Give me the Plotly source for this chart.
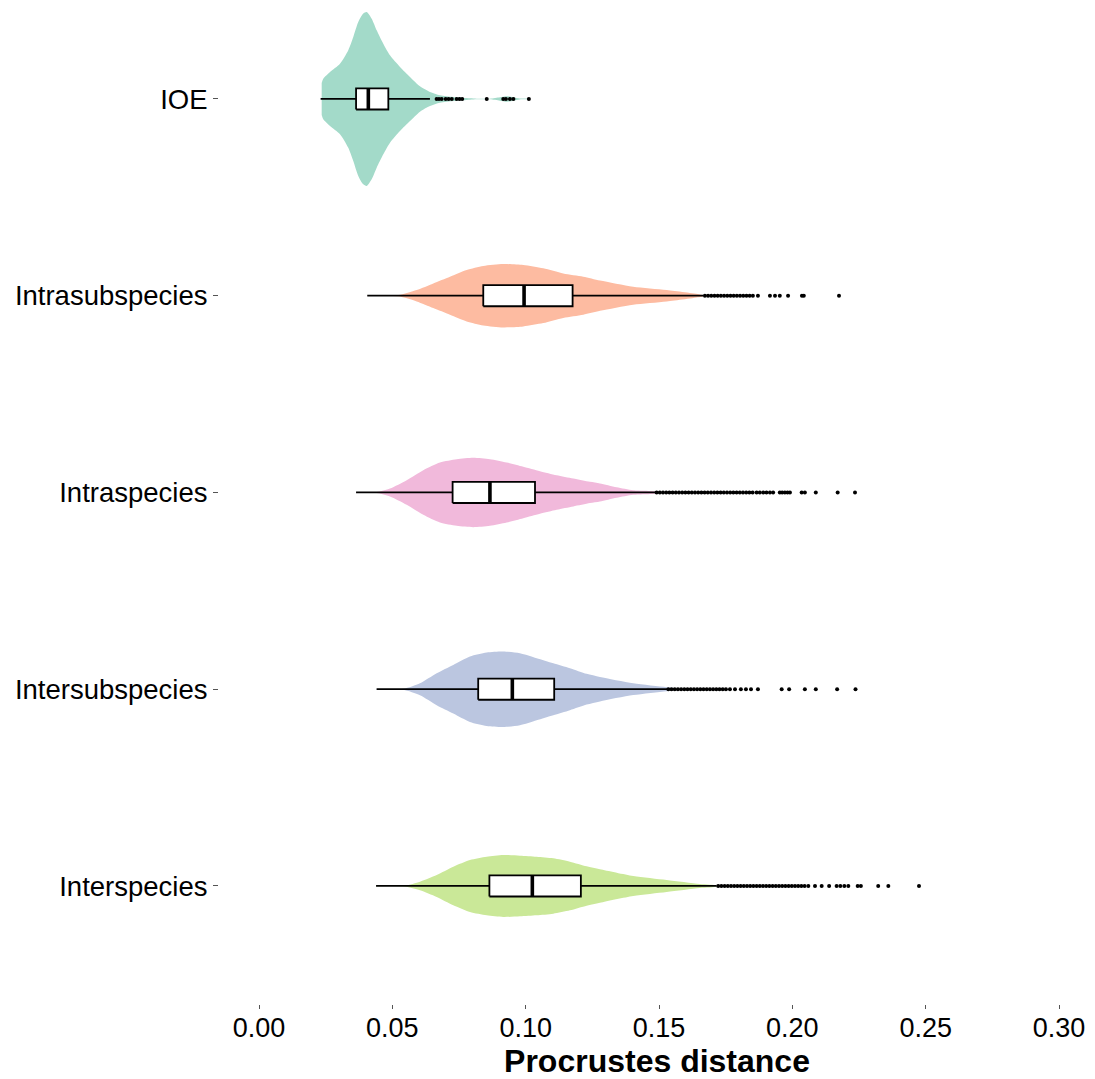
import plotly.graph_objects as go

# ---------------- data ----------------
groups = ["Interspecies", "Intersubspecies", "Intraspecies", "Intrasubspecies", "IOE"]
positions = [0, 1, 2, 3, 4]
fill_colors = ["rgb(202,232,152)", "rgb(187,198,224)", "rgb(241,185,219)",
               "rgb(253,187,161)", "rgb(163,218,201)"]

# box statistics (Procrustes distance)
lower_whisker = [0.0439, 0.0441, 0.0364, 0.0406, 0.0231]
q1_vals = [0.0864, 0.0822, 0.0726, 0.0841, 0.0364]
median_vals = [0.1025, 0.0950, 0.0866, 0.0994, 0.0410]
q3_vals = [0.1207, 0.1107, 0.1035, 0.1176, 0.0485]
upper_whisker = [0.1716, 0.1534, 0.1491, 0.1665, 0.0641]

# violin outlines: x positions and half-widths (category units)
violin_x = {
    "IOE": [0.02351, 0.02411, 0.02662, 0.03037, 0.03348, 0.03536, 0.03723, 0.03911,
            0.04038, 0.04226, 0.04413, 0.04661, 0.04912, 0.05287, 0.05662, 0.06037,
            0.06412, 0.06787, 0.07285, 0.07911, 0.08163, 0.08661, 0.09036, 0.09288,
            0.09535, 0.09786, 0.10124],
    "Intrasubspecies": [0.04061, 0.05223, 0.05913, 0.06535, 0.07162, 0.07788, 0.0841,
                        0.0916, 0.0991, 0.1066, 0.1141, 0.1216, 0.1279, 0.1403, 0.1529,
                        0.1654, 0.1666],
    "Intraspecies": [0.03637, 0.04413, 0.04912, 0.05538, 0.0616, 0.06787, 0.07413,
                     0.08035, 0.08661, 0.09288, 0.0991, 0.10536, 0.11162, 0.11785,
                     0.12411, 0.12786, 0.13412, 0.14035, 0.14912],
    "Intersubspecies": [0.04413, 0.05411, 0.06037, 0.06663, 0.07285, 0.07912, 0.08538,
                        0.0916, 0.09786, 0.10412, 0.11035, 0.11661, 0.12287, 0.12786,
                        0.14035, 0.15287, 0.15786],
    "Interspecies": [0.04387, 0.05474, 0.06037, 0.06663, 0.07285, 0.07912, 0.08538,
                     0.0916, 0.09786, 0.10412, 0.11035, 0.11661, 0.12287, 0.12786,
                     0.14035, 0.15287, 0.16537, 0.17162],
}
violin_w = {
    "IOE": [0.0813, 0.103, 0.137, 0.179, 0.248, 0.315, 0.391, 0.434, 0.442, 0.408,
            0.349, 0.281, 0.222, 0.163, 0.112, 0.0645, 0.0356, 0.0188, 0.0102, 0.0036,
            0.0015, 0.0015, 0.0086, 0.0137, 0.0086, 0.0025, 0.001],
    "Intrasubspecies": [0.001, 0.003, 0.029, 0.0625, 0.0966, 0.1306, 0.151, 0.161,
                        0.156, 0.139, 0.113, 0.0966, 0.077, 0.0457, 0.029, 0.0066,
                        0.0025],
    "Intraspecies": [0.001, 0.0025, 0.0203, 0.0625, 0.1133, 0.1525, 0.1693, 0.1764,
                     0.1693, 0.1525, 0.1306, 0.1083, 0.0879, 0.0712, 0.054, 0.046,
                     0.027, 0.0117, 0.0036],
    "Intersubspecies": [0.001, 0.0025, 0.0305, 0.0813, 0.1235, 0.1662, 0.1865, 0.1916,
                        0.183, 0.1576, 0.1321, 0.1067, 0.078, 0.062, 0.030, 0.0102,
                        0.0025],
    "Interspecies": [0.001, 0.0025, 0.0219, 0.0559, 0.0981, 0.1321, 0.1489, 0.1576,
                     0.154, 0.1489, 0.1408, 0.1235, 0.100, 0.085, 0.0508, 0.0305,
                     0.0102, 0.0025],
}

# outliers
outliers = {
    "IOE": [0.0666, 0.0675, 0.0685, 0.0700, 0.0711, 0.0723, 0.0741, 0.0752, 0.0762,
            0.0854, 0.0916, 0.0926, 0.0941, 0.0954, 0.1012],
    "Intrasubspecies": [0.1672, 0.1684, 0.1696, 0.1708, 0.1720, 0.1732, 0.1744, 0.1756,
                        0.1768, 0.1780, 0.1792, 0.1804, 0.1816, 0.1828, 0.1840, 0.1852,
                        0.1871, 0.1916, 0.1935, 0.1953, 0.1984, 0.2036, 0.2043, 0.2175],
    "Intraspecies": [0.1491, 0.1503, 0.1515, 0.1527, 0.1539, 0.1551, 0.1563, 0.1575,
                     0.1587, 0.1599, 0.1611, 0.1623, 0.1635, 0.1647, 0.1659, 0.1671,
                     0.1683, 0.1695, 0.1707, 0.1719, 0.1731, 0.1743, 0.1755, 0.1767,
                     0.1779, 0.1791, 0.1803, 0.1815, 0.1827, 0.1839, 0.1851, 0.1866,
                     0.1878, 0.1891, 0.1903, 0.1916, 0.1928, 0.1953, 0.1962, 0.1972,
                     0.1982, 0.1991, 0.2035, 0.2047, 0.2088, 0.2170, 0.2235],
    "Intersubspecies": [0.1535, 0.1547, 0.1559, 0.1571, 0.1583, 0.1595, 0.1607, 0.1619,
                        0.1631, 0.1643, 0.1655, 0.1667, 0.1679, 0.1691, 0.1703, 0.1715,
                        0.1727, 0.1739, 0.1751, 0.1766, 0.1785, 0.1807, 0.1826, 0.1845,
                        0.1871, 0.1960, 0.1988, 0.2047, 0.2088, 0.2168, 0.2237],
    "Interspecies": [0.1722, 0.1734, 0.1746, 0.1758, 0.1770, 0.1782, 0.1794, 0.1806,
                     0.1818, 0.1830, 0.1842, 0.1854, 0.1866, 0.1878, 0.1890, 0.1902,
                     0.1914, 0.1926, 0.1938, 0.1950, 0.1962, 0.1974, 0.1986, 0.1998,
                     0.2010, 0.2022, 0.2034, 0.2046, 0.2060, 0.2085, 0.2110, 0.2138,
                     0.2166, 0.2180, 0.2195, 0.2210, 0.2245, 0.2257, 0.2322, 0.2360,
                     0.2475],
}

x_tick_vals = [0.00, 0.05, 0.10, 0.15, 0.20, 0.25, 0.30]
x_tick_text = ["0.00", "0.05", "0.10", "0.15", "0.20", "0.25", "0.30"]
x_title = "Procrustes distance"

# ---------------- figure ----------------
BOX_H = 0.0535  # half height of box in category units
fig = go.Figure()

# violins (smoothed outline, upper and lower halves)
for g, pos, col in zip(groups, positions, fill_colors):
    xs = violin_x[g]
    ws = violin_w[g]
    px_ = xs + xs[::-1]
    py_ = [pos + w for w in ws] + [pos - w for w in ws[::-1]]
    fig.add_trace(go.Scatter(x=px_, y=py_, mode="lines", fill="toself",
                             fillcolor=col,
                             line=dict(width=0, color=col, shape="spline",
                                       smoothing=0.7),
                             hoverinfo="skip", showlegend=False))

# box plots
for i, (g, pos) in enumerate(zip(groups, positions)):
    # whiskers
    fig.add_trace(go.Scatter(
        x=[lower_whisker[i], q1_vals[i], None, q3_vals[i], upper_whisker[i]],
        y=[pos, pos, None, pos, pos], mode="lines",
        line=dict(color="black", width=1.8), hoverinfo="skip", showlegend=False))
    # box
    fig.add_trace(go.Scatter(
        x=[q1_vals[i], q3_vals[i], q3_vals[i], q1_vals[i], q1_vals[i]],
        y=[pos - BOX_H, pos - BOX_H, pos + BOX_H, pos + BOX_H, pos - BOX_H],
        mode="lines", fill="toself", fillcolor="white",
        line=dict(color="black", width=1.8), hoverinfo="skip", showlegend=False))
    # median
    fig.add_trace(go.Scatter(x=[median_vals[i], median_vals[i]],
                             y=[pos - BOX_H, pos + BOX_H],
                             mode="lines", line=dict(color="black", width=3.6),
                             hoverinfo="skip", showlegend=False))
    # outliers
    fig.add_trace(go.Scatter(x=outliers[g], y=[pos] * len(outliers[g]),
                             mode="markers",
                             marker=dict(color="black", size=4, line=dict(width=0)),
                             hoverinfo="skip", showlegend=False))

fig.update_layout(
    width=1095, height=1079,
    margin=dict(l=219, r=0, t=0, b=75),
    plot_bgcolor="white", paper_bgcolor="white",
    font=dict(family="Liberation Sans, Arial, sans-serif", color="black"),
    showlegend=False,
)
fig.update_xaxes(
    range=[-0.015, 0.3135], tickvals=x_tick_vals, ticktext=x_tick_text,
    ticks="outside", ticklen=4, tickwidth=1, tickcolor="#555555",
    tickfont=dict(size=27, color="black"), ticklabelstandoff=-4,
    showgrid=False, zeroline=False, showline=False,
    title=dict(text="<b>" + x_title + "</b>", font=dict(size=32, color="black"),
               standoff=8),
)
fig.update_yaxes(
    range=[-0.6, 4.503], tickvals=positions, ticktext=groups,
    ticks="outside", ticklen=5, tickwidth=1, tickcolor="#555555",
    tickfont=dict(size=27.5, color="black"),
    showgrid=False, zeroline=False, showline=False,
)

fig.write_html("out.html", config={"displayModeBar": False})
